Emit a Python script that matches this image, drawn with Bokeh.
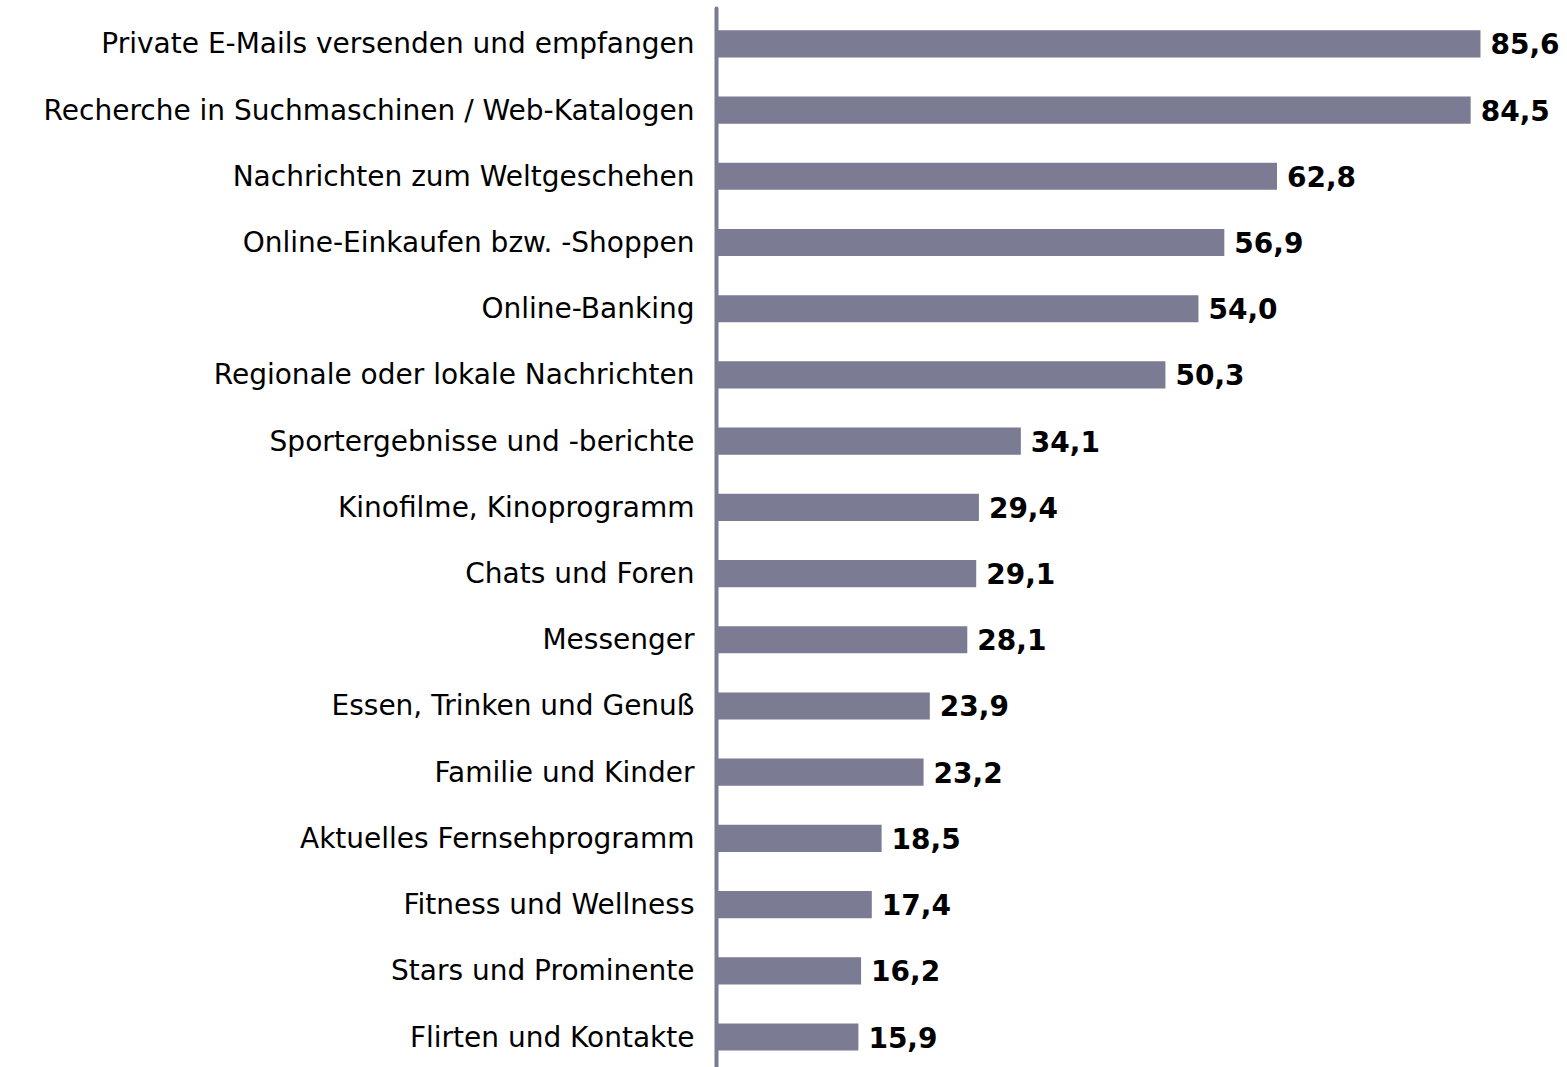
from bokeh.plotting import figure
from bokeh.models import ColumnDataSource, Range1d, FixedTicker
from bokeh.core.properties import value
from bokeh.embed import file_html
from bokeh.resources import INLINE

categories = [
    "Private E-Mails versenden und empfangen",
    "Recherche in Suchmaschinen / Web-Katalogen",
    "Nachrichten zum Weltgeschehen",
    "Online-Einkaufen bzw. -Shoppen",
    "Online-Banking",
    "Regionale oder lokale Nachrichten",
    "Sportergebnisse und -berichte",
    "Kinofilme, Kinoprogramm",
    "Chats und Foren",
    "Messenger",
    "Essen, Trinken und Genuß",
    "Familie und Kinder",
    "Aktuelles Fernsehprogramm",
    "Fitness und Wellness",
    "Stars und Prominente",
    "Flirten und Kontakte",
]
values = [85.6, 84.5, 62.8, 56.9, 54.0, 50.3, 34.1, 29.4, 29.1, 28.1, 23.9, 23.2, 18.5, 17.4, 16.2, 15.9]
value_labels = [f"{v:.1f}".replace(".", ",") for v in values]

idx = list(range(len(categories)))
src = ColumnDataSource(dict(y=idx, v=values, lab=value_labels))

BAR = "#7b7b93"
FONT = "DejaVu Sans"

p = figure(width=1567, height=1067, output_backend="svg", toolbar_location=None,
           x_axis_location=None, x_range=Range1d(0, 95.35), y_range=Range1d(15.46, -0.655),
           min_border_left=716, min_border_right=0, min_border_top=0, min_border_bottom=0)
p.outline_line_color = None
p.grid.visible = False
p.background_fill_color = "white"

p.hbar(y="y", left=0, right="v", height=0.41, source=src, fill_color=BAR, line_color=None)
p.text(x="v", y="y", text="lab", source=src, x_offset=10, text_baseline="middle",
       text_align="left", text_font=value(FONT), text_font_style="bold",
       text_font_size="28px", text_color="black")

ax = p.yaxis[0]
ax.ticker = FixedTicker(ticks=idx)
ax.major_label_overrides = {i: c for i, c in enumerate(categories)}
ax.bounds = (-0.53, 15.46)
ax.major_tick_line_color = None
ax.minor_tick_line_color = None
ax.major_tick_out = 0
ax.major_tick_in = 0
ax.axis_line_color = BAR
ax.axis_line_width = 4
ax.axis_line_cap = "round"
ax.major_label_standoff = 22
ax.major_label_text_font = FONT
ax.major_label_text_font_size = "28px"
ax.major_label_text_color = "black"

open("out.html", "w").write(file_html(p, INLINE))
